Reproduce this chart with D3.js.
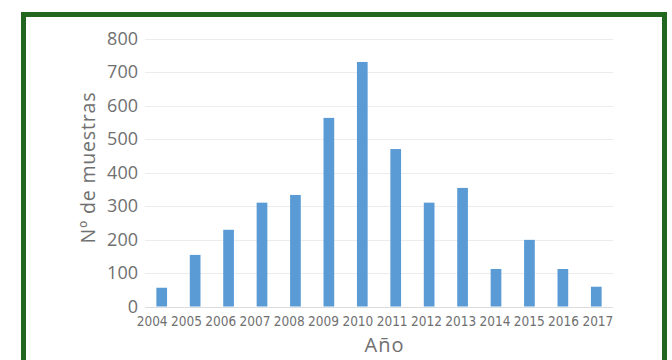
<!DOCTYPE html>
<html>
<head>
<meta charset="utf-8">
<script src="https://cdn.jsdelivr.net/npm/d3@7"></script>
<style>
  html, body { margin: 0; padding: 0; background: #fff; }
  svg { display: block; }
</style>
</head>
<body>
<div id="chart"></div>
<script>
// data
var years = ["2004", "2005", "2006", "2007", "2008", "2009", "2010",
             "2011", "2012", "2013", "2014", "2015", "2016", "2017"];
var muestras = [56, 154, 229, 310, 333, 563, 730, 470, 310, 354, 112, 199, 112, 59];
var yTicks = [0, 100, 200, 300, 400, 500, 600, 700, 800];

var width = 672, height = 360;
var plot = { left: 145, right: 613, top: 38.5, bottom: 306.5 };

var svg = d3.select("#chart").append("svg")
    .attr("width", width)
    .attr("height", height);

// green frame
svg.append("rect")
    .attr("x", 23.5)
    .attr("y", 14.5)
    .attr("width", 641)
    .attr("height", 360)
    .attr("fill", "#fff")
    .attr("stroke", "#22661f")
    .attr("stroke-width", 5);

var x = d3.scaleBand()
    .domain(years)
    .range([plot.left, plot.right])
    .paddingInner(0.68)
    .paddingOuter(0.34);

// the year labels in the picture are spread a little wider than the bars
var xLabels = d3.scaleBand()
    .domain(years)
    .range([135, 615]);

var y = d3.scaleLinear()
    .domain([0, 800])
    .range([plot.bottom, plot.top]);

// gridlines
svg.append("g")
    .attr("class", "grid")
    .selectAll("line")
    .data(yTicks)
    .enter().append("line")
    .attr("x1", plot.left)
    .attr("x2", plot.right)
    .attr("y1", d => Math.round(y(d)) + 0.5)
    .attr("y2", d => Math.round(y(d)) + 0.5)
    .attr("stroke", d => d === 0 ? "#dcdcdc" : "#ececec")
    .attr("stroke-width", 1);

// bars
svg.append("g")
    .selectAll("rect")
    .data(years)
    .enter().append("rect")
    .attr("x", d => x(d))
    .attr("width", x.bandwidth())
    .attr("y", (d, i) => y(muestras[i]))
    .attr("height", (d, i) => y(0) - y(muestras[i]))
    .attr("fill", "#5b9bd5");

// y axis (labels only)
var yAxis = d3.axisLeft(y).tickValues(yTicks).tickSize(0).tickPadding(7);
var gy = svg.append("g")
    .attr("transform", "translate(" + plot.left + ",0)")
    .call(yAxis);
gy.select(".domain").remove();
gy.selectAll("text")
    .style("font-family", "'Open Sans', sans-serif")
    .style("font-size", "18px")
    .attr("fill", "#707070");

// x axis (labels only)
var xAxis = d3.axisBottom(xLabels).tickSize(0).tickPadding(10);
var gx = svg.append("g")
    .attr("transform", "translate(0," + plot.bottom + ")")
    .call(xAxis);
gx.select(".domain").remove();
gx.selectAll("text")
    .style("font-family", "'DejaVu Sans Condensed', 'DejaVu Sans', sans-serif")
    .style("font-stretch", "condensed")
    .style("font-size", "13.5px")
    .attr("fill", "#707070");

// axis titles
svg.append("text")
    .attr("transform", "translate(95,168) rotate(-90)")
    .style("text-anchor", "middle")
    .style("font-family", "'Open Sans', sans-serif")
    .style("font-size", "19.5px")
    .attr("textLength", 151)
    .attr("lengthAdjust", "spacing")
    .attr("fill", "#707070")
    .text("Nº de muestras");

svg.append("text")
    .attr("x", 384)
    .attr("y", 352)
    .style("text-anchor", "middle")
    .style("font-family", "'Open Sans', sans-serif")
    .style("font-size", "20px")
    .attr("textLength", 39)
    .attr("lengthAdjust", "spacing")
    .attr("fill", "#707070")
    .text("Año");
</script>
</body>
</html>
